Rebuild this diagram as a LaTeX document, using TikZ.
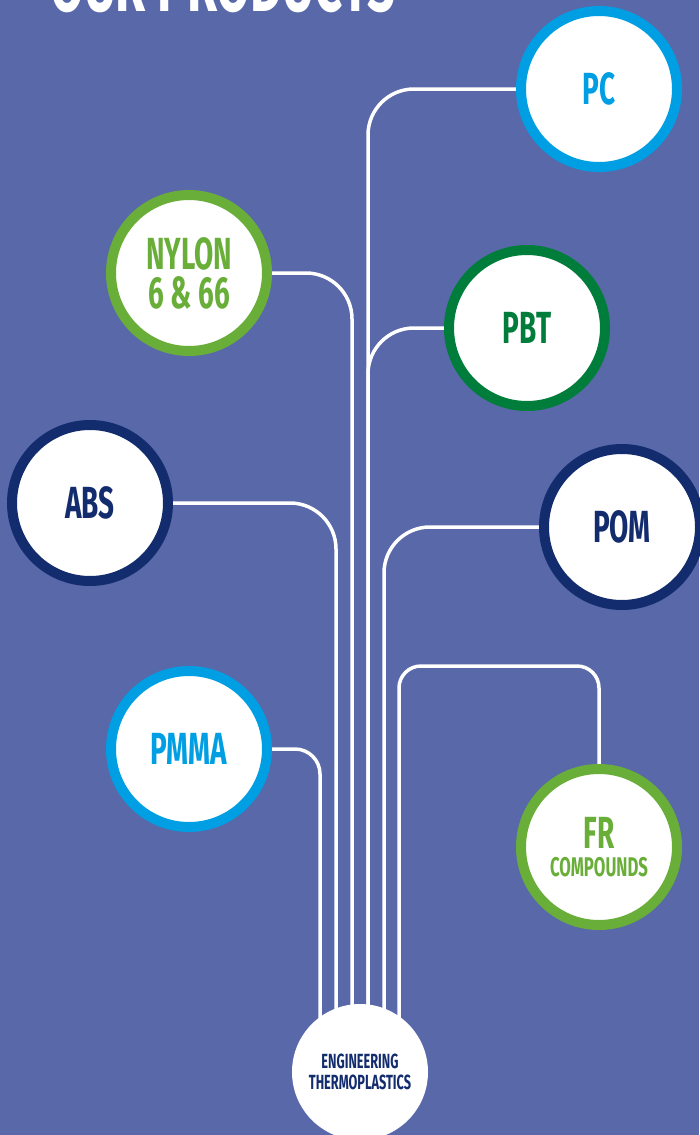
\documentclass[tikz,border=0pt]{standalone}
\usepackage{fontspec}
\newfontfamily\condfont{Fira Sans}[FakeStretch=0.62]
\usetikzlibrary{positioning}
\pgfdeclarelayer{bg}
\pgfdeclarelayer{wires}
\pgfsetlayers{bg,wires,main}

\begin{document}
\begin{tikzpicture}[x=1pt,y=-1pt,
	prod node/.style={circle,draw,line width=10pt,fill=white,inner sep=0pt,
		minimum size=156pt,align=center,
		font=\condfont\bfseries\fontsize{45}{39}\selectfont},
	wire/.style={draw=white,line width=3.5pt,rounded corners=#1},
	wire/.default=46pt]
	
	\definecolor{bgblue}{RGB}{88,104,168}
	\definecolor{lblue}{RGB}{0,159,227}
	\definecolor{lgreen}{RGB}{106,174,58}
	\definecolor{dgreen}{RGB}{0,125,58}
	\definecolor{navy}{RGB}{19,44,110}
	
	\useasboundingbox (0,0) rectangle (699,1135);
	\begin{pgfonlayer}{bg}
		\fill[bgblue] (0,0) rectangle (699,1135);
	\end{pgfonlayer}
	
	\node[anchor=base west,inner sep=0pt,text=white,
		font=\condfont\bfseries\fontsize{79}{79}\selectfont] (title) at (50,11) {OUR PRODUCTS};
	
	\node[prod node, draw=lblue, text=lblue] (pc) at (599,89) {PC};
	\node[prod node, draw=dgreen, text=dgreen] (pbt) at (527,328) {PBT};
	\node[prod node, draw=lgreen, text=lgreen] (nylon) at (189,273) {NYLON\\6 \& 66};
	\node[prod node, draw=navy, text=navy] (abs) at (90,503) {ABS};
	\node[prod node, draw=navy, text=navy] (pom) at (622,527) {POM};
	\node[prod node, draw=lblue, text=lblue] (pmma) at (189,749) {PMMA};
	\node[prod node, draw=lgreen, text=lgreen] (fr) at (599,847)
		{FR\\[-11pt]\fontsize{27}{28}\selectfont COMPOUNDS};
	\node[circle, fill=white, inner sep=0pt, minimum size=136pt, align=center, text=navy,
		font=\condfont\bfseries\fontsize{20.5}{21}\selectfont] (eng) at (360,1072)
		{ENGINEERING\\THERMOPLASTICS};
	
	\coordinate (frturn) at (399,666);
	
	% branches into the trunk, under the circles
	\begin{pgfonlayer}{wires}
		\draw[wire] (pc.west) -| ([xshift=8pt]eng.center);
		\draw[wire] (pbt.west) -| ([xshift=8pt]eng.center);
		\draw[wire] (nylon.east) -| ([xshift=-8pt]eng.center);
		\draw[wire] (abs.east) -| ([xshift=-24pt]eng.center);
		\draw[wire] (pom.west) -| ([xshift=24pt]eng.center);
		\draw[wire=25pt] (pmma.east) -| ([xshift=-40pt]eng.center);
		\draw[wire=22pt] (fr.north) |- (frturn) -- ([xshift=39pt]eng.center);
	\end{pgfonlayer}
\end{tikzpicture}
\end{document}
